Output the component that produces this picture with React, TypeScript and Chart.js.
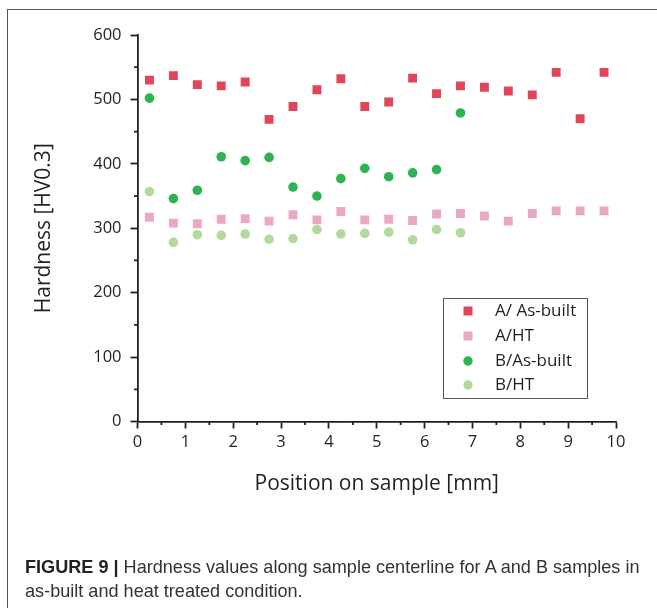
import React, { useEffect, useRef } from "react";
import { Chart, registerables } from "chart.js";

Chart.register(...registerables);

const positions = [0.25, 0.75, 1.25, 1.75, 2.25, 2.75, 3.25, 3.75, 4.25, 4.75, 5.25, 5.75, 6.25, 6.75, 7.25, 7.75, 8.25, 8.75, 9.25, 9.75];
const aAsBuilt = [530, 537, 523, 521, 527, 469, 489, 515, 532, 489, 496, 533, 509, 521, 519, 513, 507, 542, 470, 542];
const aHT = [317, 308, 307, 314, 315, 311, 321, 313, 326, 313, 314, 312, 322, 323, 319, 311, 323, 327, 327, 327];
const bAsBuilt = [502, 346, 359, 411, 405, 410, 364, 350, 377, 393, 380, 386, 391, 479];
const bHT = [357, 278, 290, 289, 291, 283, 284, 298, 291, 292, 294, 282, 298, 293];
const seriesLabels = ["A/ As-built", "A/HT", "B/As-built", "B/HT"];
const xTicksMinor = [0.5, 1.5, 2.5, 3.5, 4.5, 5.5, 6.5, 7.5, 8.5, 9.5];
const yTicksMinor = [50, 150, 250, 350, 450, 550];

const FONT = "'Open Sans', Lato, 'DejaVu Sans', sans-serif";
const INK = "#231f20";

const toPoints = (vals: number[]) => vals.map((v, i) => ({ x: positions[i], y: v }));

const minorTicksPlugin = {
  id: "minorTicks",
  afterDraw(chart: any) {
    const ctx = chart.ctx;
    const xs = chart.scales.x;
    const ys = chart.scales.y;
    ctx.save();
    ctx.strokeStyle = INK;
    ctx.lineWidth = 1.8;
    ctx.beginPath();
    for (const v of xTicksMinor) {
      const px = xs.getPixelForValue(v);
      ctx.moveTo(px, chart.chartArea.bottom);
      ctx.lineTo(px, chart.chartArea.bottom + 3.5);
    }
    for (const v of yTicksMinor) {
      const py = ys.getPixelForValue(v);
      ctx.moveTo(chart.chartArea.left, py);
      ctx.lineTo(chart.chartArea.left - 3.5, py);
    }
    ctx.stroke();
    ctx.restore();
  },
};

const legendBoxPlugin = {
  id: "legendBox",
  afterDraw(chart: any) {
    const ctx = chart.ctx;
    const bx = 443, by = 298, bw = 144, bh = 100;
    ctx.save();
    ctx.strokeStyle = "#555";
    ctx.lineWidth = 1;
    ctx.strokeRect(bx + 0.5, by + 0.5, bw, bh);
    const rows = [311, 336, 361, 385];
    chart.data.datasets.forEach((ds: any, i: number) => {
      const y = rows[i];
      const mx = 468;
      ctx.fillStyle = ds.backgroundColor;
      if (ds.pointStyle === "rect") {
        ctx.fillRect(mx - 4.5, y - 4.5, 9, 9);
      } else {
        ctx.beginPath();
        ctx.arc(mx, y, 4.7, 0, Math.PI * 2);
        ctx.fill();
      }
      ctx.fillStyle = INK;
      ctx.font = `17px ${FONT}`;
      ctx.textBaseline = "middle";
      ctx.textAlign = "left";
      ctx.fillText(ds.label, 495, y);
    });
    ctx.restore();
  },
};

export default function App() {
  const ref = useRef<HTMLCanvasElement | null>(null);
  useEffect(() => {
    if (!ref.current) return;
    const chart = new Chart(ref.current, {
      type: "scatter",
      data: {
        datasets: [
          { label: seriesLabels[0], data: toPoints(aAsBuilt), pointStyle: "rect", pointRadius: 6.3, backgroundColor: "#e0465a", borderWidth: 0 },
          { label: seriesLabels[1], data: toPoints(aHT), pointStyle: "rect", pointRadius: 6.3, backgroundColor: "#eca6c6", borderWidth: 0 },
          { label: seriesLabels[2], data: toPoints(bAsBuilt), pointStyle: "circle", pointRadius: 4.8, backgroundColor: "#2db450", borderWidth: 0 },
          { label: seriesLabels[3], data: toPoints(bHT), pointStyle: "circle", pointRadius: 4.8, backgroundColor: "#b4d99c", borderWidth: 0 },
        ] as any,
      },
      options: {
        animation: false,
        responsive: false,
        devicePixelRatio: 1,
        layout: { padding: { left: 27, top: 35, right: 41, bottom: 107 } },
        plugins: { legend: { display: false }, tooltip: { enabled: false } },
        scales: {
          x: {
            type: "linear",
            min: 0,
            max: 10,
            afterFit: (s: any) => { s.height = 79.5; },
            ticks: { stepSize: 1, color: INK, font: { family: FONT, size: 16.5 }, padding: 4, maxRotation: 0 },
            grid: { drawOnChartArea: false, drawTicks: true, tickLength: 7, tickColor: INK, tickWidth: 1.8 },
            border: { display: true, color: INK, width: 1.8 },
            title: { display: true, text: "Position on sample [mm]", color: INK, font: { family: FONT, size: 21 } },
          },
          y: {
            type: "linear",
            min: 0,
            max: 600,
            afterFit: (s: any) => { s.width = 110.5; },
            ticks: { stepSize: 100, color: INK, font: { family: FONT, size: 16.5 }, padding: 9 },
            grid: { drawOnChartArea: false, drawTicks: true, tickLength: 7, tickColor: INK, tickWidth: 1.8 },
            border: { display: true, color: INK, width: 1.8 },
            title: { display: true, text: "Hardness [HV0.3]", color: INK, font: { family: FONT, size: 21 } },
          },
        },
      },
      plugins: [minorTicksPlugin, legendBoxPlugin],
    });
    return () => chart.destroy();
  }, []);

  return (
    <div style={{ position: "absolute", left: 0, top: 0, width: 657, height: 608, overflow: "hidden", background: "#fff" }}>
      <div style={{ position: "absolute", left: 7, top: 9, width: 800, height: 800, borderLeft: "1.5px solid #555", borderTop: "1.5px solid #555" }} />
      <canvas ref={ref} width={657} height={608} style={{ position: "absolute", left: 0, top: 0, width: 657, height: 608 }} />
      <div style={{ position: "absolute", left: 25, top: 555, width: 640, whiteSpace: "nowrap", fontFamily: "'Liberation Sans', Arial, sans-serif", fontSize: 18.1, lineHeight: "24px", color: "#333" }}>
        <span style={{ fontWeight: "bold", color: "#222" }}>FIGURE 9 | </span>Hardness values along sample centerline for A and B samples in
        <br />
        as-built and heat treated condition.
      </div>
    </div>
  );
}
